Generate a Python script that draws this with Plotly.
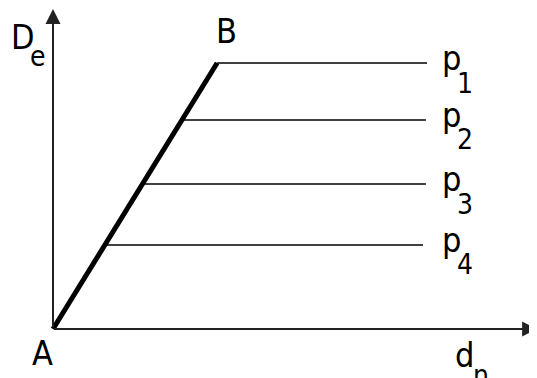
import plotly.graph_objects as go

# --- data (diagram units: A at origin, B at D_e = 1) ---
point_A = (0.0, 0.0)
point_B = (0.617, 1.0)
level_names = ["p", "p", "p", "p"]
level_subs = ["1", "2", "3", "4"]
level_De = [1.0, 0.786, 0.545, 0.316]
level_start_dn = [0.617, 0.485, 0.336, 0.195]
level_end_dn = [1.406, 1.402, 1.402, 1.391]
x_axis_end = 1.82
y_axis_end = 1.203

FONT = "Liberation Sans Narrow, DejaVu Sans Condensed, DejaVu Sans"
fs = 34
sub_fs = 28
PX = 266.0  # pixels per diagram unit

fig = go.Figure()

# thick line A-B
fig.add_trace(go.Scatter(x=[point_A[0], point_B[0]], y=[point_A[1], point_B[1]],
                         mode="lines", line=dict(color="black", width=5),
                         hoverinfo="skip", showlegend=False))
# horizontal lines
for xs, xe, yv in zip(level_start_dn, level_end_dn, level_De):
    fig.add_trace(go.Scatter(x=[xs, xe], y=[yv, yv], mode="lines",
                             line=dict(color="black", width=1.5),
                             hoverinfo="skip", showlegend=False))

ann = []
# axes arrows
ann.append(dict(x=x_axis_end, y=0, ax=0, ay=0, xref="x", yref="y", axref="x", ayref="y",
                showarrow=True, arrowhead=2, arrowsize=1.5, arrowwidth=2, arrowcolor="#222", text=""))
ann.append(dict(x=0, y=y_axis_end, ax=0, ay=0, xref="x", yref="y", axref="x", ayref="y",
                showarrow=True, arrowhead=2, arrowsize=1.5, arrowwidth=2, arrowcolor="#222", text=""))

def txt(t, x, y, size, xa="center", dx=0, dy=0):
    # dx/dy: pixel offsets (right / down)
    return dict(text=t, x=x + dx / PX, y=y - dy / PX, xref="x", yref="y", showarrow=False,
                xanchor=xa, yanchor="middle",
                font=dict(family=FONT, size=size, color="black"))

# axis labels (positions relative to A / B in pixels)
ann.append(txt("D", 0, y_axis_end, fs, "left", dx=-44, dy=28))
ann.append(txt("e", 0, y_axis_end, sub_fs, "left", dx=-25, dy=47))
ann.append(txt("B", point_B[0], point_B[1], fs, "center", dx=9, dy=-32))
ann.append(txt("A", 0, 0, fs, "center", dx=-11, dy=24))
ann.append(txt("d", 0, 0, fs, "left", dx=400, dy=26))
ann.append(txt("n", 0, 0, sub_fs, "left", dx=418, dy=46))
for nm, sb, xe, yv in zip(level_names, level_subs, level_end_dn, level_De):
    ann.append(txt(nm, 1.406, yv, fs, "left", dx=13, dy=-5))
    ann.append(txt(sb, 1.406, yv, sub_fs, "left", dx=28, dy=20))

# page body has an 8px margin: figure sits at (8, 8) in the 537x378 window
fig.update_layout(
    width=529, height=370,
    margin=dict(l=0, r=0, t=0, b=0),
    paper_bgcolor="white", plot_bgcolor="white",
    xaxis=dict(range=[-45/PX, 484/PX], visible=False, fixedrange=True),
    yaxis=dict(range=[-49/PX, 321/PX], visible=False, fixedrange=True),
    annotations=ann,
    showlegend=False,
)
fig.write_html("out.html")
